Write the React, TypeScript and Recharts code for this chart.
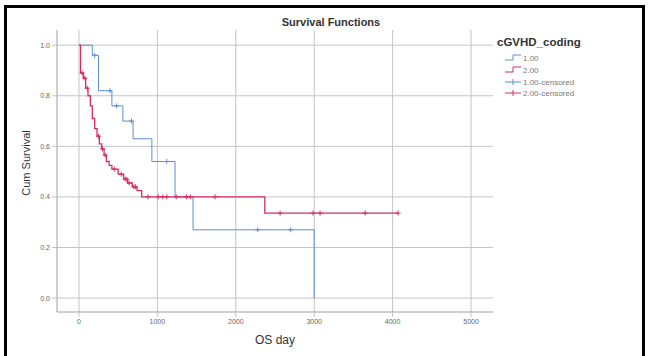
import React from "react";
import { ComposedChart, Line, Scatter, XAxis, YAxis, CartesianGrid } from "recharts";

// cGVHD_coding = 1.00 (blue)
const blueTimes = [0, 170, 250, 420, 560, 690, 930, 1225, 1455, 3000];
const blueSurv = [1.0, 0.96, 0.82, 0.76, 0.7, 0.63, 0.54, 0.4, 0.27, 0.0];
const blueCensTimes = [200, 395, 480, 670, 1120, 2280, 2700];
const blueCensSurv = [0.96, 0.82, 0.76, 0.7, 0.54, 0.27, 0.27];

// cGVHD_coding = 2.00 (red)
const redTimes = [0, 20, 55, 85, 115, 145, 170, 200, 230, 260, 290, 320, 350, 385, 420, 500, 570, 620, 680, 740, 800, 2370, 4070];
const redSurv = [1.0, 0.89, 0.87, 0.83, 0.8, 0.76, 0.71, 0.67, 0.64, 0.61, 0.59, 0.565, 0.54, 0.525, 0.51, 0.49, 0.47, 0.455, 0.44, 0.425, 0.4, 0.336, 0.336];
const redCensTimes = [40, 75, 105, 250, 300, 335, 450, 540, 590, 610, 640, 700, 720, 880, 1010, 1070, 1120, 1240, 1370, 1420, 1735, 2565, 2985, 3075, 3650, 4070];
const redCensSurv = [0.89, 0.87, 0.83, 0.64, 0.59, 0.565, 0.51, 0.49, 0.47, 0.47, 0.455, 0.44, 0.44, 0.4, 0.4, 0.4, 0.4, 0.4, 0.4, 0.4, 0.4, 0.336, 0.336, 0.336, 0.336, 0.336];

const xTicks = [0, 1000, 2000, 3000, 4000, 5000];
const yTicks = [0, 0.2, 0.4, 0.6, 0.8, 1.0];
const legendLabels = ["1.00", "2.00", "1.00-censored", "2.00-censored"];

const BLUE = "#5b8ed6";
const RED = "#d62f5f";

const zip = (t: number[], s: number[]) => t.map((v, i) => ({ t: v, s: s[i] }));

const blueData = zip(blueTimes, blueSurv);
const redData = zip(redTimes, redSurv);
const blueCens = zip(blueCensTimes, blueCensSurv);
const redCens = zip(redCensTimes, redCensSurv);

const cross = (color: string) => (props: any) => {
    const { cx, cy } = props;
    return (
        <g stroke={color} strokeWidth={1}>
            <line x1={cx - 2.5} y1={cy} x2={cx + 2.5} y2={cy} />
            <line x1={cx} y1={cy - 2.5} x2={cx} y2={cy + 2.5} />
        </g>
    );
};

const LegendBox = () => {
    const x0 = 505;
    const rows = [58, 70, 82, 93];
    return (
        <svg width={649} height={356} style={{ position: "absolute", left: 0, top: 0, pointerEvents: "none" }}>
            <text x={497} y={46} fontSize={11.5} fontWeight="bold" fill="#333" fontFamily="Liberation Sans, Arial, sans-serif">
                cGVHD_coding
            </text>
            {legendLabels.map((label, i) => {
                const y = rows[i];
                const color = i % 2 === 0 ? BLUE : RED;
                return (
                    <g key={label}>
                        {i < 2 ? (
                            <polyline
                                points={`${x0},${y + 2} ${x0 + 8},${y + 2} ${x0 + 8},${y - 3} ${x0 + 16},${y - 3}`}
                                fill="none"
                                stroke={color}
                                strokeWidth={1}
                            />
                        ) : (
                            <g stroke={color} strokeWidth={1}>
                                <line x1={x0} y1={y} x2={x0 + 16} y2={y} />
                                <line x1={x0 + 8} y1={y - 3} x2={x0 + 8} y2={y + 3} />
                            </g>
                        )}
                        <text x={x0 + 18} y={y + 3} fontSize={8} fill="#777" fontFamily="Liberation Sans, Arial, sans-serif">
                            {label}
                        </text>
                    </g>
                );
            })}
        </svg>
    );
};

const App = () => {
    const font = "Liberation Sans, Arial, sans-serif";
    return (
        <div style={{ position: "absolute", left: 0, top: 0, width: 649, height: 356, background: "#fff", fontFamily: font }}>
            <ComposedChart width={649} height={356} margin={{ top: 30, right: 156, bottom: 14, left: 0 }}>
                <CartesianGrid stroke="#c4c4c4" strokeWidth={1} verticalValues={xTicks} horizontalValues={yTicks} />
                <XAxis
                    type="number"
                    dataKey="t"
                    domain={[-280, 5280]}
                    ticks={xTicks}
                    height={30}
                    tickSize={5}
                    tickLine={{ stroke: "#c4c4c4" }}
                    axisLine={{ stroke: "#a0a0a0" }}
                    tick={{ fontSize: 7, fill: "#666", fontFamily: font }}
                    allowDataOverflow
                />
                <YAxis
                    type="number"
                    dataKey="s"
                    domain={[-0.055, 1.06]}
                    ticks={yTicks}
                    width={57}
                    tickSize={5}
                    tickLine={{ stroke: "#c4c4c4" }}
                    axisLine={{ stroke: "#a0a0a0" }}
                    tickFormatter={(v: number) => v.toFixed(1)}
                    tick={{ fontSize: 7, fill: "#666", fontFamily: font }}
                    allowDataOverflow
                />
                <Line data={blueData} dataKey="s" type="stepAfter" stroke={BLUE} strokeWidth={1} dot={false} isAnimationActive={false} />
                <Line data={redData} dataKey="s" type="stepAfter" stroke={RED} strokeWidth={1.3} dot={false} isAnimationActive={false} />
                <Scatter data={blueCens} dataKey="s" shape={cross(BLUE)} isAnimationActive={false} />
                <Scatter data={redCens} dataKey="s" shape={cross(RED)} isAnimationActive={false} />
            </ComposedChart>
            <svg width={649} height={356} style={{ position: "absolute", left: 0, top: 0, pointerEvents: "none" }}>
                <text x={331} y={26} textAnchor="middle" fontSize={11} fontWeight="bold" fill="#333" fontFamily={font}>
                    Survival Functions
                </text>
                <text x={275} y={344} textAnchor="middle" fontSize={12} fill="#333" fontFamily={font}>
                    OS day
                </text>
                <text x={30} y={163} textAnchor="middle" fontSize={11} fill="#333" fontFamily={font} transform="rotate(-90 30 163)">
                    Cum Survival
                </text>
            </svg>
            <LegendBox />
            <div style={{ position: "absolute", left: 4, top: 5, width: 3, height: 351, background: "#000" }} />
            <div style={{ position: "absolute", left: 4, top: 5, width: 641, height: 3, background: "#000" }} />
            <div style={{ position: "absolute", left: 642, top: 5, width: 3, height: 351, background: "#000" }} />
        </div>
    );
};

export default App;
